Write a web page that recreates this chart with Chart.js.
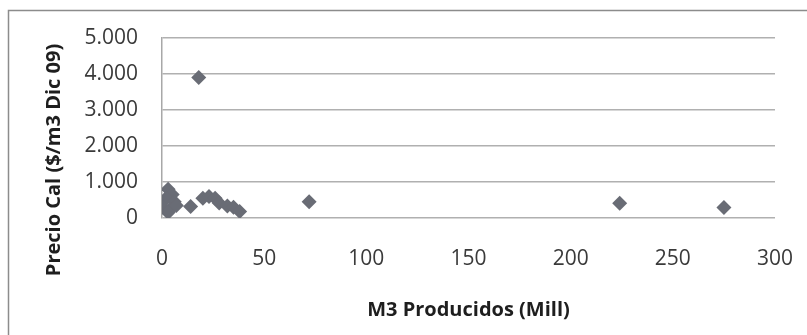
<!DOCTYPE html>
<html>
<head>
<meta charset="utf-8">
<script src="https://cdn.jsdelivr.net/npm/chart.js@4"></script>
<style>
html,body{margin:0;padding:0;background:#fff;}
#wrap{position:relative;width:807px;height:335px;overflow:hidden;}
canvas{position:absolute;left:0;top:0;}
</style>
</head>
<body>
<div id="wrap"><canvas id="c" width="807" height="335"></canvas></div>
<script>
// Data
const producedM3 = [18, 72, 224, 275, 14, 3, 5, 2, 6, 0.5, 4, 3, 7, 20, 23, 26, 28, 32, 35, 38];
const priceCal   = [3900, 450, 410, 290, 320, 800, 650, 550, 450, 300, 250, 150, 350, 550, 600, 550, 420, 330, 300, 180];
const yTickLabels = ['0', '1.000', '2.000', '3.000', '4.000', '5.000'];
const xTickLabels = ['0', '50', '100', '150', '200', '250', '300'];
const xTitle = 'M3 Producidos (Mill)';
const yTitle = 'Precio Cal ($/m3 Dic 09)';

const points = producedM3.map((x, i) => ({x: x, y: priceCal[i]}));

const frameAndTitle = {
  id: 'frameAndTitle',
  beforeDraw(chart) {
    const ctx = chart.ctx;
    ctx.save();
    ctx.fillStyle = '#ffffff';
    ctx.fillRect(0, 0, chart.width, chart.height);
    ctx.strokeStyle = '#8c8c8c';
    ctx.lineWidth = 1.5;
    ctx.strokeRect(8.5, 10.5, 900, 400);
    ctx.restore();
  },
  afterDraw(chart) {
    const ctx = chart.ctx;
    ctx.save();
    ctx.translate(54, 160);
    ctx.rotate(-Math.PI / 2);
    ctx.font = 'bold 20px "Open Sans"';
    ctx.fillStyle = '#1e1e1e';
    ctx.textAlign = 'center';
    ctx.textBaseline = 'middle';
    ctx.fillText(yTitle, 0, 0);
    ctx.restore();
  }
};

new Chart(document.getElementById('c'), {
  type: 'scatter',
  data: {
    datasets: [{
      data: points,
      pointStyle: 'rectRot',
      pointRadius: 7.5,
      pointHoverRadius: 7.5,
      backgroundColor: '#696c75',
      borderColor: '#696c75',
      borderWidth: 0
    }]
  },
  options: {
    responsive: false,
    animation: false,
    devicePixelRatio: 1,
    layout: {padding: {left: 0, top: 38, right: 32, bottom: 0}},
    plugins: {legend: {display: false}, tooltip: {enabled: false}},
    scales: {
      x: {
        type: 'linear',
        min: 0, max: 300,
        afterFit(s) { s.height = 117; s.paddingRight = 0; s.paddingLeft = 0; },
        grid: {display: false, drawTicks: false, tickLength: 0},
        border: {display: false},
        ticks: {
          stepSize: 50,
          padding: 28,
          color: '#3a3a3a',
          font: {family: 'Open Sans', size: 21},
          maxRotation: 0,
          callback: (v, i) => xTickLabels[i]
        },
        title: {
          display: true,
          text: xTitle,
          color: '#1e1e1e',
          font: {family: 'Open Sans', size: 20, weight: 'bold'},
          padding: {top: 0, bottom: 13}
        }
      },
      y: {
        type: 'linear',
        min: 0, max: 5000,
        afterFit(s) { s.width = 162; s.paddingTop = 0; s.paddingBottom = 0; },
        grid: {color: '#b0b0b0', lineWidth: 1.5, drawTicks: false, tickLength: 0},
        border: {display: true, color: '#a8a8a8', width: 1.5},
        ticks: {
          stepSize: 1000,
          padding: 24,
          color: '#3a3a3a',
          font: {family: 'Open Sans', size: 21},
          callback: (v, i) => yTickLabels[i]
        }
      }
    }
  },
  plugins: [frameAndTitle]
});
</script>
</body>
</html>
